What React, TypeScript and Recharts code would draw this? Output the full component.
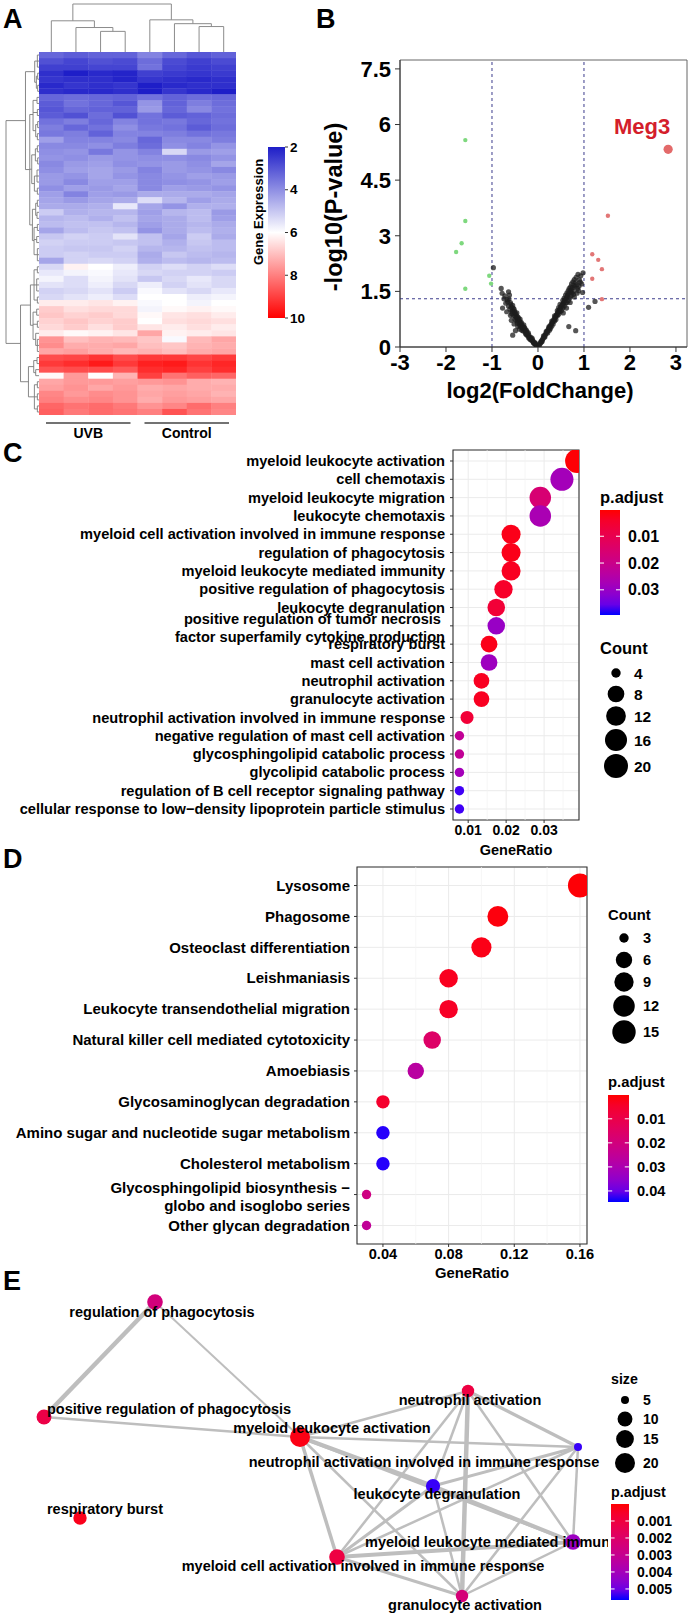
import React from 'react';
import { ScatterChart, Scatter, LineChart, Line, XAxis, YAxis, CartesianGrid, ReferenceLine, ReferenceArea } from 'recharts';

const FONT = '"Liberation Sans", Arial, Helvetica, sans-serif';

// ---------------- Panel A: heatmap ----------------
const heatSamples = ['UVB-1', 'UVB-2', 'UVB-3', 'UVB-4', 'Control-1', 'Control-2', 'Control-3', 'Control-4'];
const heatRows: number[][] = [
  [3.3, 3.1, 3.2, 3.2, 3.8, 3.3, 3.0, 3.2],
  [2.9, 2.7, 2.9, 2.8, 3.4, 2.8, 2.6, 2.8],
  [2.6, 2.6, 2.7, 2.7, 3.5, 2.7, 2.5, 2.6],
  [2.3, 2.0, 2.2, 2.1, 2.6, 2.5, 2.4, 2.5],
  [2.4, 2.3, 2.3, 2.1, 2.4, 2.3, 2.2, 2.3],
  [2.2, 2.4, 2.3, 2.4, 2.0, 2.2, 2.3, 2.3],
  [2.3, 2.2, 2.2, 2.3, 2.0, 2.4, 2.2, 1.9],
  [3.3, 3.4, 3.3, 3.2, 3.5, 3.2, 3.4, 3.3],
  [3.1, 3.5, 3.3, 3.0, 4.1, 3.2, 3.7, 3.4],
  [3.0, 3.3, 3.2, 3.2, 4.2, 3.3, 3.9, 3.5],
  [3.1, 2.9, 3.4, 2.9, 3.5, 3.1, 3.2, 3.4],
  [3.5, 3.7, 3.3, 3.8, 3.5, 3.6, 3.3, 3.5],
  [3.7, 3.3, 3.5, 4.0, 3.6, 3.5, 3.1, 3.4],
  [3.6, 3.7, 3.2, 3.8, 3.8, 3.7, 3.5, 3.6],
  [4.3, 3.8, 3.8, 3.9, 3.3, 3.9, 3.9, 3.7],
  [3.9, 3.9, 4.0, 3.7, 3.4, 4.0, 3.8, 4.1],
  [4.0, 4.1, 3.6, 4.1, 3.8, 5.3, 4.2, 4.3],
  [4.1, 4.0, 4.2, 4.1, 4.0, 4.0, 3.9, 4.1],
  [3.9, 4.2, 4.3, 4.0, 4.1, 4.2, 4.0, 4.4],
  [4.0, 4.3, 4.4, 4.2, 3.8, 4.2, 4.1, 3.9],
  [4.2, 4.1, 4.4, 4.1, 3.9, 4.1, 4.3, 4.2],
  [4.2, 3.9, 4.3, 4.3, 3.9, 4.0, 4.1, 4.3],
  [4.0, 4.3, 4.2, 4.4, 3.9, 4.3, 4.2, 4.1],
  [4.3, 3.8, 4.3, 4.2, 4.5, 4.5, 4.5, 4.4],
  [4.4, 4.2, 4.4, 4.5, 5.4, 4.7, 4.3, 4.5],
  [4.5, 4.5, 4.6, 5.6, 4.4, 4.1, 4.6, 4.6],
  [5.1, 4.6, 4.7, 4.7, 4.3, 4.7, 4.8, 4.2],
  [4.7, 4.8, 4.6, 4.9, 4.4, 4.5, 4.8, 4.3],
  [4.8, 4.9, 4.9, 4.7, 4.3, 4.5, 4.7, 4.5],
  [4.4, 4.8, 5.0, 4.9, 4.1, 4.5, 4.8, 4.6],
  [5.0, 5.2, 5.1, 5.5, 4.9, 4.4, 5.1, 4.5],
  [5.2, 5.1, 5.1, 5.0, 4.9, 4.6, 5.0, 4.8],
  [5.1, 5.0, 5.0, 5.2, 4.7, 4.7, 4.9, 4.8],
  [5.1, 5.2, 5.1, 5.1, 4.5, 5.0, 4.8, 4.7],
  [4.4, 5.2, 5.3, 5.2, 4.6, 4.8, 4.7, 4.8],
  [5.3, 6.2, 6.0, 5.7, 5.2, 5.4, 5.2, 5.4],
  [5.6, 5.8, 5.9, 5.6, 5.3, 5.2, 5.2, 5.1],
  [5.8, 5.4, 5.8, 5.5, 5.0, 5.3, 5.6, 5.3],
  [5.5, 5.4, 5.7, 5.3, 5.7, 5.2, 5.5, 5.3],
  [5.2, 5.3, 5.5, 5.1, 5.9, 5.5, 5.3, 5.6],
  [5.3, 5.5, 5.7, 5.4, 6.0, 6.0, 5.7, 5.8],
  [6.3, 6.3, 6.4, 6.2, 5.9, 6.0, 5.8, 6.0],
  [6.8, 6.5, 6.6, 6.6, 5.8, 6.1, 6.2, 6.1],
  [6.9, 6.7, 6.8, 6.6, 6.1, 6.4, 6.5, 6.3],
  [6.7, 6.9, 6.7, 6.8, 6.0, 6.5, 6.6, 6.5],
  [6.6, 6.8, 6.5, 6.8, 6.4, 6.3, 6.5, 6.3],
  [6.3, 6.1, 6.2, 6.4, 7.4, 6.2, 6.3, 6.4],
  [7.7, 7.0, 7.2, 7.1, 6.9, 5.9, 7.1, 7.4],
  [7.8, 7.3, 7.3, 7.4, 7.0, 6.9, 7.2, 7.3],
  [7.4, 7.5, 7.3, 7.1, 7.2, 7.0, 7.3, 7.4],
  [8.8, 8.9, 9.2, 8.8, 9.1, 9.1, 8.9, 9.1],
  [9.1, 9.3, 9.6, 9.1, 9.5, 9.6, 9.2, 9.4],
  [8.7, 8.8, 8.8, 8.6, 9.3, 9.4, 9.0, 9.3],
  [6.1, 7.6, 6.0, 7.2, 9.0, 8.2, 8.5, 8.4],
  [7.4, 7.6, 7.6, 7.5, 7.6, 7.7, 7.3, 7.2],
  [7.5, 7.7, 7.4, 7.6, 7.3, 7.4, 7.3, 7.3],
  [7.9, 7.6, 7.8, 7.7, 7.4, 7.5, 7.4, 7.2],
  [8.0, 7.8, 7.9, 7.7, 7.3, 7.6, 7.5, 7.4],
  [8.4, 8.2, 8.3, 8.1, 7.7, 7.9, 8.3, 8.0],
  [8.5, 8.1, 8.3, 8.2, 8.0, 8.7, 8.2, 7.9],
];
// hierarchical clustering trees: [height, ...children]; leaves are indices
const sampleTree: any = [10, [6.5, 0, [5.1, 1, [4.3, 2, 3]]], [6.7, 4, [5.9, 5, [5.3, 6, 7]]]];
const geneTree: any = [10,
  [4.1,
    [1.3, [0.5, 0, 1, 2], [0.8, [0.4, 3, 4], [0.4, 5, 6]]],
    [2.8,
      [1.8, [0.6, 7, 8], [0.5, 9, 10], [1.0, [0.4, 11, 12], [0.5, 13, 14]]],
      [2.2, [1.1, [0.5, 15, 16], [0.4, 17, 18]], [1.4, [0.6, 19, 20, 21], [0.5, 22, 23]]],
      [2.0, [1.0, [0.5, 24, 25], [0.6, 26, 27]], [1.5, [0.5, 28, 29], [0.7, 30, 31], [0.5, 32, 33, 34]]]]],
  [5.6,
    [2.6, [1.5, [0.5, 35, 36], [0.7, 37, 38, 39], [0.5, 40, 41]], [1.8, [0.7, 42, 43], [0.5, 44, 45], [1.0, 46, [0.5, 47, 48, 49]]]],
    [3.2, [1.6, [0.6, 50, 51], [1.0, 52, 53]], [1.4, [0.5, 54, 55], [0.5, 56, 57], [0.5, 58, 59]]]]];
const exprTicks = [2, 4, 6, 8, 10];
const groupNames = ['UVB', 'Control'];
const groupSampleRanges = [[0, 4], [4, 8]];

// ---------------- Panel B: volcano ----------------
const volcanoXTicks = [-3, -2, -1, 0, 1, 2, 3];
const volcanoYTicks = [0, 1.5, 3, 4.5, 6, 7.5];
const volcanoNS: [number, number][] = [
  [-0.97, 2.14], [-0.80, 1.58], [-0.64, 1.49], [-0.62, 1.40], [-0.67, 1.28], [-0.70, 1.18], [-0.77, 1.05], [-0.64, 1.10],
  [-0.60, 1.20], [-0.58, 1.08], [-0.55, 1.12], [-0.56, 0.98], [-0.52, 1.02], [-0.68, 0.95], [-0.50, 0.92], [-0.53, 0.85],
  [-0.48, 0.88], [-0.47, 0.78], [-0.45, 0.82], [-0.44, 0.72], [-0.42, 0.76], [-0.40, 0.70], [-0.41, 0.62], [-0.38, 0.66],
  [-0.36, 0.60], [-0.37, 0.54], [-0.34, 0.58], [-0.33, 0.50], [-0.31, 0.54], [-0.30, 0.46], [-0.28, 0.48], [-0.27, 0.42],
  [-0.26, 0.38], [-0.24, 0.40], [-0.23, 0.34], [-0.22, 0.30], [-0.20, 0.33], [-0.19, 0.27], [-0.18, 0.24], [-0.16, 0.26],
  [-0.15, 0.21], [-0.14, 0.18], [-0.12, 0.20], [-0.11, 0.15], [-0.10, 0.12], [-0.08, 0.13], [-0.07, 0.09], [-0.06, 0.07],
  [-0.04, 0.06], [-0.03, 0.03], [-0.02, 0.02], [-0.45, 0.64], [-0.50, 0.74], [-0.57, 0.90], [-0.35, 0.45], [-0.55, 0.32],
  [-0.49, 0.44], [-0.46, 0.70], [-0.39, 0.58], [-0.32, 0.43], [-0.25, 0.33], [-0.17, 0.20], [-0.09, 0.10],
  [-0.78, 1.45], [-0.74, 1.30], [-0.72, 1.38], [-0.66, 1.22], [-0.63, 1.30], [-0.61, 1.02], [-0.59, 1.15], [-0.57, 0.95],
  [-0.54, 1.05], [-0.51, 0.96], [-0.49, 0.82], [-0.46, 0.92], [-0.43, 0.80], [-0.41, 0.68], [-0.39, 0.75], [-0.36, 0.66],
  [-0.34, 0.52], [-0.31, 0.60], [-0.29, 0.52], [-0.27, 0.36], [-0.25, 0.45], [-0.21, 0.38], [-0.20, 0.24], [-0.13, 0.24],
  [-0.05, 0.10], [-0.58, 0.72], [-0.52, 0.62], [-0.44, 0.55], [-0.40, 0.48], [-0.60, 0.85],
  [0.02, 0.03], [0.04, 0.07], [0.05, 0.10], [0.07, 0.13], [0.08, 0.17], [0.10, 0.20], [0.11, 0.23], [0.13, 0.26],
  [0.14, 0.30], [0.16, 0.33], [0.17, 0.36], [0.19, 0.40], [0.20, 0.42], [0.22, 0.46], [0.23, 0.50], [0.25, 0.53],
  [0.26, 0.55], [0.28, 0.60], [0.29, 0.62], [0.31, 0.66], [0.32, 0.68], [0.34, 0.72], [0.35, 0.75], [0.37, 0.79],
  [0.38, 0.82], [0.40, 0.86], [0.41, 0.88], [0.43, 0.92], [0.44, 0.95], [0.46, 0.98], [0.47, 1.01], [0.49, 1.05],
  [0.50, 1.08], [0.52, 1.12], [0.53, 1.14], [0.55, 1.18], [0.56, 1.21], [0.58, 1.24], [0.59, 1.27], [0.61, 1.30],
  [0.62, 1.33], [0.64, 1.37], [0.65, 1.40], [0.67, 1.44], [0.69, 1.32], [0.70, 1.50], [0.72, 1.54], [0.74, 1.46],
  [0.75, 1.60], [0.77, 1.50], [0.78, 1.66], [0.80, 1.62], [0.84, 1.68], [0.87, 1.96], [0.90, 1.81], [0.98, 2.00],
  [0.97, 1.47], [0.92, 1.75], [0.82, 1.74], [0.86, 1.58], [0.30, 0.56], [0.36, 0.70], [0.42, 0.84], [0.48, 0.95],
  [0.54, 1.05], [0.60, 1.18], [0.66, 1.25], [0.72, 1.38], [0.67, 0.55], [0.82, 0.44], [1.10, 1.07], [1.24, 1.23],
  [0.25, 0.45], [0.45, 0.88], [0.57, 1.10], [0.63, 1.20], [0.77, 1.42], [0.95, 1.70], [0.88, 1.52],
  [0.06, 0.14], [0.09, 0.15], [0.12, 0.30], [0.15, 0.27], [0.18, 0.42], [0.21, 0.38], [0.24, 0.55], [0.27, 0.50],
  [0.30, 0.70], [0.33, 0.62], [0.36, 0.84], [0.39, 0.74], [0.42, 0.98], [0.45, 1.06], [0.48, 1.15], [0.51, 0.98],
  [0.54, 1.26], [0.57, 1.32], [0.60, 1.40], [0.63, 1.46], [0.66, 1.52], [0.68, 1.58], [0.71, 1.62], [0.73, 1.70],
  [0.76, 1.76], [0.79, 1.82], [0.83, 1.88], [0.85, 1.45], [0.79, 1.35], [0.70, 1.20], [0.62, 1.05], [0.55, 0.92],
  [0.93, 1.92], [0.89, 1.64],
];
const volcanoDown: [number, number][] = [[-1.58, 5.58], [-1.58, 3.40], [-1.66, 2.80], [-1.78, 2.56], [-1.58, 1.57], [-1.06, 1.92], [-1.02, 1.71]];
const volcanoUp: [number, number][] = [[1.52, 3.54], [1.18, 2.50], [1.31, 2.35], [1.39, 2.10], [1.18, 1.84], [1.39, 1.29]];
const volcanoHighlight = [{ x: 2.83, y: 5.33, name: 'Meg3' }];

// ---------------- Panel C: GO dot plot ----------------
const goTerms = [
  'myeloid leukocyte activation',
  'cell chemotaxis',
  'myeloid leukocyte migration',
  'leukocyte chemotaxis',
  'myeloid cell activation involved in immune response',
  'regulation of phagocytosis',
  'myeloid leukocyte mediated immunity',
  'positive regulation of phagocytosis',
  'leukocyte degranulation',
  'positive regulation of tumor necrosis \nfactor superfamily cytokine production',
  'respiratory burst',
  'mast cell activation',
  'neutrophil activation',
  'granulocyte activation',
  'neutrophil activation involved in immune response',
  'negative regulation of mast cell activation',
  'glycosphingolipid catabolic process',
  'glycolipid catabolic process',
  'regulation of B cell receptor signaling pathway',
  'cellular response to low\u2212density lipoprotein particle stimulus',
];
const goRatio = [0.0387, 0.0347, 0.0290, 0.0290, 0.0213, 0.0213, 0.0213, 0.0193, 0.0174, 0.0174, 0.0155, 0.0155, 0.0135, 0.0135, 0.0097, 0.0077, 0.0077, 0.0077, 0.0077, 0.0077];
const goCount = [20, 18, 15, 15, 11, 11, 11, 10, 9, 9, 8, 8, 7, 7, 5, 4, 4, 4, 4, 4];
const goPadj = [0.0005, 0.028, 0.016, 0.027, 0.002, 0.002, 0.003, 0.004, 0.006, 0.030, 0.002, 0.029, 0.003, 0.003, 0.006, 0.022, 0.022, 0.028, 0.038, 0.038];
const goXTicks = [0.01, 0.02, 0.03];
const goMinorTicks = [0.015, 0.025, 0.035];
const goPadjTicks = [0.01, 0.02, 0.03];
const goCountBreaks = [4, 8, 12, 16, 20];

// ---------------- Panel D: KEGG dot plot ----------------
const keggTerms = [
  'Lysosome',
  'Phagosome',
  'Osteoclast differentiation',
  'Leishmaniasis',
  'Leukocyte transendothelial migration',
  'Natural killer cell mediated cytotoxicity',
  'Amoebiasis',
  'Glycosaminoglycan degradation',
  'Amino sugar and nucleotide sugar metabolism',
  'Cholesterol metabolism',
  'Glycosphingolipid biosynthesis \u2212\nglobo and isoglobo series',
  'Other glycan degradation',
];
const keggRatio = [0.16, 0.11, 0.10, 0.08, 0.08, 0.07, 0.06, 0.04, 0.04, 0.04, 0.03, 0.03];
const keggCount = [16, 11, 10, 8, 8, 7, 6, 4, 4, 4, 3, 3];
const keggPadj = [0.0005, 0.001, 0.002, 0.003, 0.004, 0.0156, 0.027, 0.005, 0.044, 0.044, 0.021, 0.025];
const keggXTicks = [0.04, 0.08, 0.12, 0.16];
const keggMinorTicks = [0.06, 0.10, 0.14];
const keggPadjTicks = [0.01, 0.02, 0.03, 0.04];
const keggCountBreaks = [3, 6, 9, 12, 15];

// ---------------- Panel E: enrichment map ----------------
const emapTerms = [
  'regulation of phagocytosis',
  'positive regulation of phagocytosis',
  'myeloid leukocyte activation',
  'neutrophil activation',
  'neutrophil activation involved in immune response',
  'leukocyte degranulation',
  'myeloid leukocyte mediated immunity',
  'myeloid cell activation involved in immune response',
  'granulocyte activation',
  'respiratory burst',
];
const emapLayoutX = [-1.45, -2.56, 0.00, 1.68, 2.78, 1.33, 2.73, 0.37, 1.62, -2.20];
const emapLayoutY = [1.35, 0.20, 0.00, 0.46, -0.10, -0.49, -1.05, -1.20, -1.59, -0.81];
const emapLabelX = [-1.38, -1.31, 0.32, 1.70, 1.24, 1.37, 1.96, 0.63, 1.65, -1.95];
const emapLabelY = [1.25, 0.28, 0.09, 0.37, -0.25, -0.57, -1.05, -1.29, -1.68, -0.72];
const emapSize = [11, 10, 20, 7, 5, 9, 11, 11, 7, 8];
const emapPadj = [0.0025, 0.0012, 0.0002, 0.0011, 0.0055, 0.0055, 0.0042, 0.0011, 0.0024, 0.0003];
const emapEdges: [number, number, number][] = [
  [0, 1, 0.8], [0, 2, 0.3], [1, 2, 0.4],
  [2, 3, 0.4], [2, 4, 0.4], [2, 5, 0.7], [2, 6, 0.5], [2, 7, 0.6], [2, 8, 0.4],
  [3, 4, 0.6], [3, 5, 0.4], [3, 6, 0.4], [3, 7, 0.4], [3, 8, 0.8],
  [4, 5, 0.5], [4, 6, 0.4], [4, 7, 0.4], [4, 8, 0.4],
  [5, 6, 0.7], [5, 7, 0.5], [5, 8, 0.4],
  [6, 7, 0.7], [6, 8, 0.4],
  [7, 8, 0.5],
];
const emapSizeBreaks = [5, 10, 15, 20];
const emapPadjTicks = [0.001, 0.002, 0.003, 0.004, 0.005];

// ---------------- colour helpers ----------------
const lin = (c: number) => { c /= 255; return c <= 0.04045 ? c / 12.92 : Math.pow((c + 0.055) / 1.055, 2.4); };
const unlin = (c: number) => { const v = c <= 0.0031308 ? 12.92 * c : 1.055 * Math.pow(Math.max(c, 0), 1 / 2.4) - 0.055; return Math.round(Math.max(0, Math.min(1, v)) * 255); };
function rgb2lab(rgb: number[]) {
  const R = lin(rgb[0]), G = lin(rgb[1]), Bc = lin(rgb[2]);
  const X = (0.4124 * R + 0.3576 * G + 0.1805 * Bc) / 0.95047;
  const Y = 0.2126 * R + 0.7152 * G + 0.0722 * Bc;
  const Z = (0.0193 * R + 0.1192 * G + 0.9505 * Bc) / 1.08883;
  const f = (t: number) => (t > 0.008856 ? Math.cbrt(t) : 7.787 * t + 16 / 116);
  const fx = f(X), fy = f(Y), fz = f(Z);
  return [116 * fy - 16, 500 * (fx - fy), 200 * (fy - fz)];
}
function lab2rgb(lab: number[]) {
  const fy = (lab[0] + 16) / 116, fx = fy + lab[1] / 500, fz = fy - lab[2] / 200;
  const finv = (t: number) => (t * t * t > 0.008856 ? t * t * t : (t - 16 / 116) / 7.787);
  const X = finv(fx) * 0.95047, Y = finv(fy), Z = finv(fz) * 1.08883;
  const R = 3.2406 * X - 1.5372 * Y - 0.4986 * Z;
  const G = -0.9689 * X + 1.8758 * Y + 0.0415 * Z;
  const Bc = 0.0557 * X - 0.204 * Y + 1.057 * Z;
  return `rgb(${unlin(R)},${unlin(G)},${unlin(Bc)})`;
}
const LAB_RED = rgb2lab([255, 0, 0]);
const LAB_BLUE = rgb2lab([0, 0, 255]);
const clamp01 = (t: number) => Math.max(0, Math.min(1, t));
const redBlue = (t: number) => lab2rgb(LAB_RED.map((c, i) => c + (LAB_BLUE[i] - c) * clamp01(t)));

const HEAT_LOW = [30, 30, 200];
const HEAT_HIGH = [255, 0, 0];
function heatColor(v: number) {
  const mix = (a: number[], b: number[], t: number) => `rgb(${a.map((c, i) => Math.round(c + (b[i] - c) * clamp01(t))).join(',')})`;
  return v <= 6 ? mix(HEAT_LOW, [255, 255, 255], (v - 2) / 4) : mix([255, 255, 255], HEAT_HIGH, (v - 6) / 4);
}

// dendrogram path builder
type DPt = { a: number; b: number | null };
function dendro(node: any, out: DPt[]): { pos: number; h: number } {
  if (typeof node === 'number') return { pos: node + 0.5, h: 0 };
  const [h, ...kids] = node;
  const res = kids.map((k: any) => dendro(k, out));
  for (const r of res) out.push({ a: r.pos, b: r.h }, { a: r.pos, b: h }, { a: r.pos, b: null });
  const ps = res.map((r: any) => r.pos);
  const lo = Math.min(...ps), hi = Math.max(...ps);
  out.push({ a: lo, b: h }, { a: hi, b: h }, { a: hi, b: null });
  return { pos: ps.reduce((s: number, p: number) => s + p, 0) / ps.length, h };
}

// ---------------- geometry of the figure ----------------
const HM = { left: 39, top: 52, width: 197, height: 363 };
const CELL_W = HM.width / heatSamples.length;
const CELL_H = HM.height / heatRows.length;

const heatCells = heatRows.flatMap((row, r) => row.map((v, c) => ({ s: c + 0.5, g: r + 0.5, v })));
const sampleSegs: DPt[] = []; dendro(sampleTree, sampleSegs);
const sampleDendroData = sampleSegs.map(p => ({ x: p.a, y: p.b }));
const geneSegs: DPt[] = []; dendro(geneTree, geneSegs);
const geneDendroData = geneSegs.map(p => ({ h: p.b === null ? 0 : p.b, r: p.b === null ? null : p.a }));

const toXY = (arr: [number, number][]) => arr.map(([x, y]) => ({ x, y }));

const goData = goTerms.map((t, i) => ({ idx: i + 1, ratio: goRatio[i], count: goCount[i], padj: goPadj[i] }));
const keggData = keggTerms.map((t, i) => ({ idx: i + 1, ratio: keggRatio[i], count: keggCount[i], padj: keggPadj[i] }));
const emapNodes = emapTerms.map((name, i) => ({ x: emapLayoutX[i], y: emapLayoutY[i], name, size: emapSize[i], padj: emapPadj[i] }));
const emapLabels = emapTerms.map((name, i) => ({ x: emapLabelX[i], y: emapLabelY[i], name }));

// scales for sizes / colours
const GO_PADJ_DOMAIN = [0.0002, 0.0394];
const KEGG_PADJ_DOMAIN = [0.0001, 0.0446];
const EMAP_PADJ_DOMAIN = [0.0, 0.00565];
const sizeScale = (v: number, d0: number, d1: number, r0: number, r1: number) => r0 + (r1 - r0) * Math.sqrt(clamp01((v - d0) / (d1 - d0)));
const goRadius = (c: number) => sizeScale(c, 4, 20, 4.7, 12);
const keggRadius = (c: number) => sizeScale(c, 3, 16, 4.7, 12);
const emapRadius = (c: number) => sizeScale(c, 5, 20, 4, 10);
const padjColor = (v: number, d: number[]) => redBlue((v - d[0]) / (d[1] - d[0]));

const boldText = (size: number) => ({ fontSize: size, fontWeight: 'bold' as const, fill: '#000', fontFamily: FONT });

const makeCatTick = (labels: string[], fontSize: number, lineGap: number) => (props: any) => {
  const { x, y, payload } = props;
  const label = labels[Math.round(payload.value) - 1] ?? '';
  const lines = label.split('\n');
  const off = lines.length > 1 ? -((lines.length - 1) * lineGap) / 2 + 1.8 : 0;
  return (
    <text x={x} y={y + off} textAnchor="end" fontFamily={FONT} fontWeight="bold" fontSize={fontSize} fill="#000" style={{ whiteSpace: 'pre' }}>
      {lines.map((l, i) => (
        <tspan key={i} x={x} dy={i === 0 ? '0.35em' : lineGap}>{l}</tspan>
      ))}
    </text>
  );
};

const HeatCell = (p: any) => (
  <rect x={p.cx - CELL_W / 2} y={p.cy - CELL_H / 2} width={CELL_W + 0.4} height={CELL_H + 0.4} fill={heatColor(p.payload.v)} />
);
const dotShape = (fill: string, r: number) => (p: any) => <circle cx={p.cx} cy={p.cy} r={r} fill={fill} />;
const HighlightShape = (p: any) => (
  <g>
    <circle cx={p.cx} cy={p.cy} r={4.6} fill="#E36A6A" />
    <text x={p.cx - 26} y={p.cy - 15} textAnchor="middle" {...boldText(22)} fill="#D41E2B">{p.payload.name}</text>
  </g>
);
const goDot = (p: any) => <circle cx={p.cx} cy={p.cy} r={goRadius(p.payload.count)} fill={padjColor(p.payload.padj, GO_PADJ_DOMAIN)} />;
const keggDot = (p: any) => <circle cx={p.cx} cy={p.cy} r={keggRadius(p.payload.count)} fill={padjColor(p.payload.padj, KEGG_PADJ_DOMAIN)} />;
const emapDot = (p: any) => <circle cx={p.cx} cy={p.cy} r={emapRadius(p.payload.size)} fill={padjColor(p.payload.padj, EMAP_PADJ_DOMAIN)} />;
const emapText = (p: any) => (
  <text x={p.cx} y={p.cy} dy="0.35em" textAnchor="middle" {...boldText(14.5)}>{p.payload.name}</text>
);
const NoShape = () => <g />;

function ColorBar({ x, y, w, h, domain, ticks, labelX, fontSize, id, fmt }: any) {
  const stops = Array.from({ length: 11 }, (_, i) => i / 10);
  const ty = (v: number) => y + ((v - domain[0]) / (domain[1] - domain[0])) * h;
  return (
    <g>
      <defs>
        <linearGradient id={id} x1="0" y1="0" x2="0" y2="1">
          {stops.map(s => <stop key={s} offset={s} stopColor={redBlue(s)} />)}
        </linearGradient>
      </defs>
      <rect x={x} y={y} width={w} height={h} fill={`url(#${id})`} />
      {ticks.map((t: number) => (
        <g key={t}>
          <line x1={x} x2={x + w * 0.2} y1={ty(t)} y2={ty(t)} stroke="#fff" strokeWidth={1} />
          <line x1={x + w * 0.8} x2={x + w} y1={ty(t)} y2={ty(t)} stroke="#fff" strokeWidth={1} />
          <text x={labelX} y={ty(t)} dominantBaseline="central" {...boldText(fontSize)}>{fmt(t)}</text>
        </g>
      ))}
    </g>
  );
}

function SizeLegend({ cx, ys, breaks, radius, labelX, fontSize }: any) {
  return (
    <g>
      {breaks.map((b: number, i: number) => (
        <g key={b}>
          <circle cx={cx} cy={ys[i]} r={radius(b)} fill="#000" />
          <text x={labelX} y={ys[i]} dominantBaseline="central" {...boldText(fontSize)}>{b}</text>
        </g>
      ))}
    </g>
  );
}

const abs = (left: number, top: number): React.CSSProperties => ({ position: 'absolute', left, top });

export default function App() {
  const colorbarA = { x: 268, y: 147, w: 17, h: 171 };
  const exprY = (v: number) => colorbarA.y + ((v - 2) / 8) * colorbarA.h;
  return (
    <div style={{ position: 'absolute', left: 0, top: 0, width: 690, height: 1618, background: '#fff', overflow: 'hidden', fontFamily: FONT }}>
      {/* ---------- A: sample dendrogram ---------- */}
      <div style={abs(HM.left, 3)}>
        <LineChart width={HM.width} height={HM.top - 3} data={sampleDendroData} margin={{ top: 1, right: 0, bottom: 0, left: 0 }}>
          <XAxis type="number" dataKey="x" domain={[0, 8]} hide />
          <YAxis type="number" domain={[0, 10]} hide />
          <Line dataKey="y" stroke="#8c8c8c" strokeWidth={1} dot={false} isAnimationActive={false} connectNulls={false} />
        </LineChart>
      </div>
      {/* ---------- A: gene dendrogram ---------- */}
      <div style={abs(5, HM.top)}>
        <LineChart width={HM.left - 5} height={HM.height} data={geneDendroData} margin={{ top: 0, right: 0, bottom: 0, left: 1 }}>
          <XAxis type="number" dataKey="h" domain={[0, 10]} reversed hide />
          <YAxis type="number" domain={[0, heatRows.length]} reversed hide />
          <Line dataKey="r" stroke="#7a7a7a" strokeWidth={0.9} dot={false} isAnimationActive={false} connectNulls={false} />
        </LineChart>
      </div>
      {/* ---------- A: heatmap ---------- */}
      <div style={abs(HM.left, HM.top)}>
        <ScatterChart width={HM.width} height={HM.height} margin={{ top: 0, right: 0, bottom: 0, left: 0 }}>
          <XAxis type="number" dataKey="s" domain={[0, heatSamples.length]} hide />
          <YAxis type="number" dataKey="g" domain={[0, heatRows.length]} reversed hide />
          <Scatter data={heatCells} shape={HeatCell} isAnimationActive={false} />
        </ScatterChart>
      </div>

      {/* ---------- B: volcano ---------- */}
      <div style={abs(330, 40)}>
        <ScatterChart width={360} height={370} margin={{ top: 20, right: 3, bottom: 23, left: 0 }}>
          <XAxis type="number" dataKey="x" domain={[-3, 3.24]} ticks={volcanoXTicks} allowDataOverflow height={40}
            tick={boldText(22)} tickSize={5} tickLine={{ stroke: '#333' }} axisLine={{ stroke: '#333' }} interval={0} />
          <YAxis type="number" dataKey="y" domain={[0, 7.74]} ticks={volcanoYTicks} allowDataOverflow width={70}
            tick={boldText(22)} tickSize={5} tickMargin={4} tickLine={{ stroke: '#333' }} axisLine={{ stroke: '#333' }} interval={0} />
          <ReferenceArea x1={-3} x2={3.24} y1={0} y2={7.74} fill="none" fillOpacity={0} stroke="#666" strokeWidth={1} />
          <ReferenceLine x={-1} stroke="#3c3c8c" strokeDasharray="3 3" strokeWidth={1} />
          <ReferenceLine x={1} stroke="#3c3c8c" strokeDasharray="3 3" strokeWidth={1} />
          <ReferenceLine y={1.301} stroke="#3c3c8c" strokeDasharray="3 3" strokeWidth={1} />
          <Scatter data={toXY(volcanoNS)} shape={dotShape('rgba(30,30,30,0.75)', 2.6)} isAnimationActive={false} />
          <Scatter data={toXY(volcanoDown)} shape={dotShape('#7ED87E', 2.2)} isAnimationActive={false} />
          <Scatter data={toXY(volcanoUp)} shape={dotShape('#E27676', 2.2)} isAnimationActive={false} />
          <Scatter data={volcanoHighlight} shape={HighlightShape} isAnimationActive={false} />
        </ScatterChart>
      </div>

      {/* ---------- C: GO dot plot ---------- */}
      <div style={abs(0, 440)}>
        <ScatterChart width={690} height={430} margin={{ top: 10, right: 111, bottom: 20, left: 0 }}>
          <CartesianGrid stroke="#EBEBEB" strokeWidth={1} />
          {goMinorTicks.map(t => <ReferenceLine key={t} x={t} stroke="#F2F2F2" strokeWidth={0.7} />)}
          <XAxis type="number" dataKey="ratio" domain={[0.006, 0.0392]} ticks={goXTicks} allowDataOverflow height={30}
            tick={boldText(14)} tickSize={3} tickLine={{ stroke: '#333' }} axisLine={false} interval={0} />
          <YAxis type="number" dataKey="idx" domain={[0.4, goTerms.length + 0.6]} reversed ticks={goTerms.map((_, i) => i + 1)}
            allowDataOverflow width={453} tick={makeCatTick(goTerms, 14.6, 18)} tickSize={3} tickMargin={5}
            tickLine={{ stroke: '#333' }} axisLine={false} interval={0} />
          <Scatter data={goData} shape={goDot} isAnimationActive={false} />
          <ReferenceArea x1={0.006} x2={0.0392} y1={0.4} y2={goTerms.length + 0.6} fill="none" fillOpacity={0} stroke="#333" strokeWidth={1.1} />
        </ScatterChart>
      </div>

      {/* ---------- D: KEGG dot plot ---------- */}
      <div style={abs(0, 860)}>
        <ScatterChart width={690} height={430} margin={{ top: 7, right: 103, bottom: 16, left: 0 }}>
          <CartesianGrid stroke="#EBEBEB" strokeWidth={1} />
          {keggMinorTicks.map(t => <ReferenceLine key={t} x={t} stroke="#F2F2F2" strokeWidth={0.7} />)}
          <XAxis type="number" dataKey="ratio" domain={[0.0242, 0.1643]} ticks={keggXTicks} allowDataOverflow height={30}
            tick={boldText(14.6)} tickSize={3} tickLine={{ stroke: '#333' }} axisLine={false} interval={0} />
          <YAxis type="number" dataKey="idx" domain={[0.4, keggTerms.length + 0.6]} reversed ticks={keggTerms.map((_, i) => i + 1)}
            allowDataOverflow width={357} tick={makeCatTick(keggTerms, 15, 18)} tickSize={3} tickMargin={4}
            tickLine={{ stroke: '#333' }} axisLine={false} interval={0} />
          <Scatter data={keggData} shape={keggDot} isAnimationActive={false} />
          <ReferenceArea x1={0.0242} x2={0.1643} y1={0.4} y2={keggTerms.length + 0.6} fill="none" fillOpacity={0} stroke="#333" strokeWidth={1.1} />
        </ScatterChart>
      </div>

      {/* ---------- E: enrichment map ---------- */}
      <div style={{ ...abs(0, 1280), width: 608, height: 338, overflow: 'hidden' }}>
        <ScatterChart width={608} height={338} margin={{ top: 0, right: 0, bottom: 0, left: 0 }}>
          <XAxis type="number" dataKey="x" domain={[-3, 3.08]} hide allowDataOverflow />
          <YAxis type="number" dataKey="y" domain={[-1.81, 1.57]} hide allowDataOverflow />
          {emapEdges.map(([a, b, sim], i) => (
            <Scatter key={`e${i}`} data={[emapNodes[a], emapNodes[b]]} line={{ stroke: '#BEBEBE', strokeWidth: 0.5 + 5 * sim }}
              shape={NoShape} isAnimationActive={false} />
          ))}
          <Scatter data={emapNodes} shape={emapDot} isAnimationActive={false} />
          <Scatter data={emapLabels} shape={emapText} isAnimationActive={false} />
        </ScatterChart>
      </div>

      {/* ---------- annotations / legends ---------- */}
      <svg width={690} height={1618} style={{ position: 'absolute', left: 0, top: 0, pointerEvents: 'none' }}>
        {/* panel letters */}
        <text x={3} y={28} {...boldText(27)}>A</text>
        <text x={316} y={28} {...boldText(27)}>B</text>
        <text x={3} y={462} {...boldText(27)}>C</text>
        <text x={3} y={868} {...boldText(27)}>D</text>
        <text x={3} y={1290} {...boldText(27)}>E</text>

        {/* A: groups */}
        {groupNames.map((g, i) => {
          const x0 = HM.left + groupSampleRanges[i][0] * CELL_W + 7;
          const x1 = HM.left + groupSampleRanges[i][1] * CELL_W - 7;
          return (
            <g key={g}>
              <line x1={x0} x2={x1} y1={423} y2={423} stroke="#444" strokeWidth={1.5} />
              <text x={(x0 + x1) / 2} y={433} textAnchor="middle" dominantBaseline="central" {...boldText(14)}>{g}</text>
            </g>
          );
        })}
        {/* A: colour key */}
        <defs>
          <linearGradient id="exprGrad" x1="0" y1="0" x2="0" y2="1">
            <stop offset="0" stopColor={heatColor(2)} />
            <stop offset="0.5" stopColor={heatColor(6)} />
            <stop offset="1" stopColor={heatColor(10)} />
          </linearGradient>
        </defs>
        <rect x={colorbarA.x} y={colorbarA.y} width={colorbarA.w} height={colorbarA.h} fill="url(#exprGrad)" />
        {exprTicks.map(t => (
          <g key={t}>
            <line x1={colorbarA.x + colorbarA.w} x2={colorbarA.x + colorbarA.w + 3} y1={exprY(t)} y2={exprY(t)} stroke="#333" />
            <text x={290} y={exprY(t)} dominantBaseline="central" {...boldText(13.5)}>{t}</text>
          </g>
        ))}
        <text transform="translate(258,212) rotate(-90)" textAnchor="middle" dominantBaseline="central" {...boldText(13)}>Gene Expression</text>

        {/* B: axis titles */}
        <text transform="translate(334,207) rotate(-90)" textAnchor="middle" dominantBaseline="central" {...boldText(23.5)}>-log10(P-value)</text>
        <text x={540} y={390} textAnchor="middle" dominantBaseline="central" {...boldText(22)}>log2(FoldChange)</text>

        {/* C: axis title + legends */}
        <text x={516} y={850} textAnchor="middle" dominantBaseline="central" {...boldText(14.5)}>GeneRatio</text>
        <text x={600} y={497} dominantBaseline="central" {...boldText(16.5)}>p.adjust</text>
        <ColorBar id="goGrad" x={600} y={510} w={20} h={105} domain={GO_PADJ_DOMAIN} ticks={goPadjTicks} labelX={628} fontSize={16} fmt={(t: number) => t.toFixed(2)} />
        <text x={600} y={648} dominantBaseline="central" {...boldText(16.5)}>Count</text>
        <SizeLegend cx={616} ys={[673, 694, 716, 740, 766]} breaks={goCountBreaks} radius={goRadius} labelX={634} fontSize={15.5} />

        {/* D: axis title + legends */}
        <text x={472} y={1273} textAnchor="middle" dominantBaseline="central" {...boldText(14.8)}>GeneRatio</text>
        <text x={608} y={915} dominantBaseline="central" {...boldText(14.8)}>Count</text>
        <SizeLegend cx={624} ys={[938, 960, 982, 1006, 1032]} breaks={keggCountBreaks} radius={keggRadius} labelX={643} fontSize={14.6} />
        <text x={608} y={1082} dominantBaseline="central" {...boldText(14.8)}>p.adjust</text>
        <ColorBar id="keggGrad" x={608} y={1095} w={21} h={107} domain={KEGG_PADJ_DOMAIN} ticks={keggPadjTicks} labelX={637} fontSize={14.6} fmt={(t: number) => t.toFixed(2)} />

        {/* E: legends */}
        <text x={611} y={1379} dominantBaseline="central" {...boldText(14.2)}>size</text>
        <SizeLegend cx={625} ys={[1400, 1419, 1439, 1463]} breaks={emapSizeBreaks} radius={emapRadius} labelX={643} fontSize={14} />
        <text x={611} y={1492} dominantBaseline="central" {...boldText(14.3)}>p.adjust</text>
        <ColorBar id="emapGrad" x={611} y={1504} w={18} h={96} domain={EMAP_PADJ_DOMAIN} ticks={emapPadjTicks} labelX={637} fontSize={14} fmt={(t: number) => t.toFixed(3)} />
      </svg>
    </div>
  );
}
